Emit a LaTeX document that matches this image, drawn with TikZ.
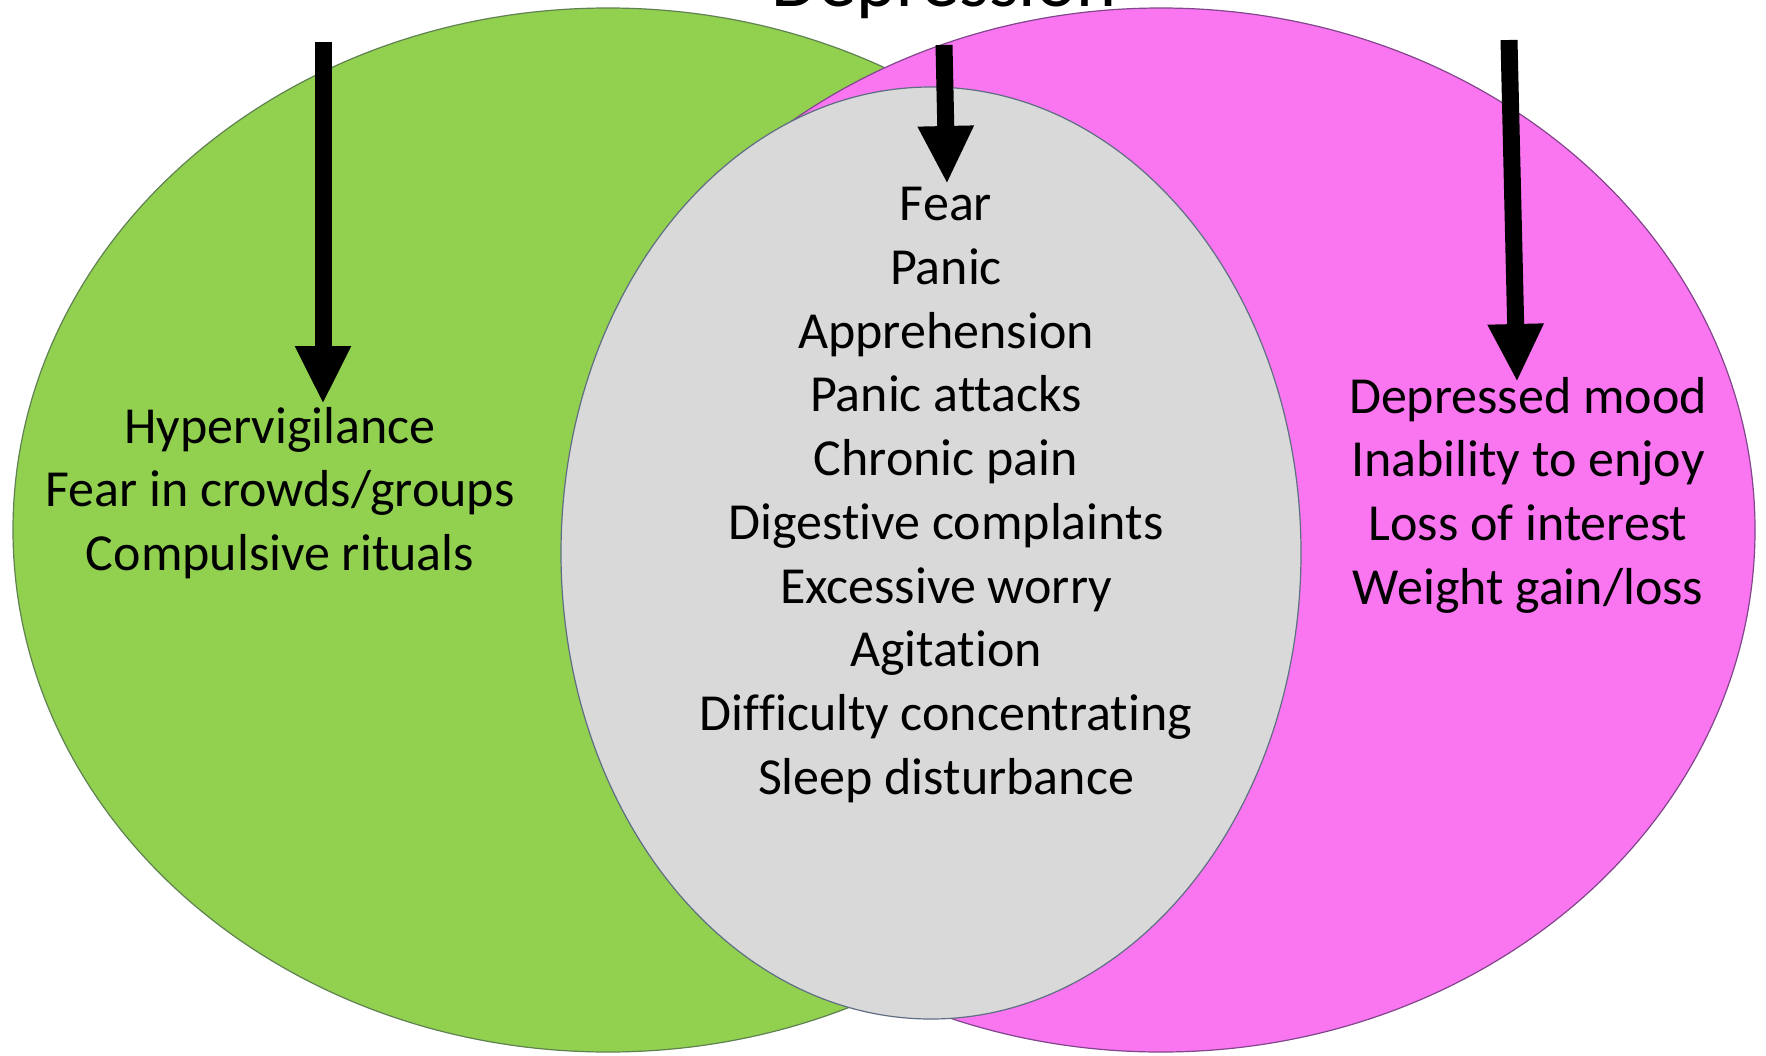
\documentclass[tikz,border=0pt]{standalone}
\usepackage{fontspec}
\setmainfont[Ligatures=NoCommon]{Carlito}
\usetikzlibrary{arrows.meta}
\definecolor{vgreen}{RGB}{146,208,80}
\definecolor{vgreenline}{RGB}{95,130,80}
\definecolor{vpink}{RGB}{249,118,240}
\definecolor{vpinkline}{RGB}{130,70,140}
\definecolor{vgray}{RGB}{217,217,217}
\definecolor{vgrayline}{RGB}{95,110,130}
\tikzset{
  setshape/.style={line width=1.2pt},
  symlist/.style={align=center, inner sep=0pt, text=black,
    font=\fontsize{52}{63.7}\selectfont},
  toplabel/.style={inner sep=0pt, anchor=base, text=black,
    font=\fontsize{76}{90}\selectfont},
  bigarrow/.style={line width=17pt, -{Triangle[width=52pt,length=58pt]}}
}
\begin{document}
\begin{tikzpicture}[x=1pt,y=-1pt]
\useasboundingbox (0,0) rectangle (1766,1055);
\clip (0,0) rectangle (1766,1055);
\fill[white] (0,0) rectangle (1766,1055);
% sets
\draw[setshape, draw=vgreenline, fill=vgreen] (608,530) ellipse [x radius=595pt, y radius=522pt];
\draw[setshape, draw=vpinkline, fill=vpink] (1161,530) ellipse [x radius=594pt, y radius=522pt];
\draw[setshape, draw=vgrayline, fill=vgray] (931,553) ellipse [x radius=370pt, y radius=466pt];
% cropped heading
\node[toplabel] (toplbl) at (944,6) {Depression};
% symptom lists
\node[symlist] (leftlist) at (280,493) {Hypervigilance\\Fear in crowds/groups\\Compulsive rituals};
\node[symlist] (midlist) at (946,495) {Fear\\Panic\\Apprehension\\Panic attacks\\Chronic pain\\Digestive complaints\\Excessive worry\\Agitation\\Difficulty concentrating\\Sleep disturbance};
\node[symlist] (rightlist) at (1528,495) {Depressed mood\\Inability to enjoy\\Loss of interest\\Weight gain/loss};
% arrows
\coordinate (la0) at (323,42);
\coordinate (la1) at (323,404);
\coordinate (ma0) at (944,45);
\coordinate (ma1) at (947,184);
\coordinate (ra0) at (1509,40);
\coordinate (ra1) at (1517,382);
\draw[bigarrow] (la0) -- (la1);
\draw[bigarrow] (ma0) -- (ma1);
\draw[bigarrow] (ra0) -- (ra1);
\end{tikzpicture}
\end{document}
